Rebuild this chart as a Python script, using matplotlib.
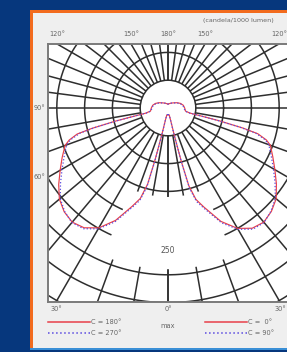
import matplotlib
matplotlib.use("Agg")
import matplotlib.pyplot as plt
import numpy as np
from matplotlib.patches import Rectangle, Wedge, Circle

# luminous intensity distribution (cd/klm) vs gamma angle
gamma = [0, 5, 10, 12, 13, 14, 15, 17, 20, 25, 30, 35, 40, 45, 50, 55, 60, 65, 70, 72, 74, 75, 76, 77,
         80, 90, 100, 110, 120, 135, 150, 165, 180]
c0 = [12, 12, 13, 22, 50, 100, 145, 172, 190, 225, 250, 264, 268, 263, 254, 238, 222, 208, 196, 186, 168, 140, 95, 40,
      32, 30, 28, 24, 19, 13, 10, 8, 7]
c180 = [12, 12, 13, 21, 48, 96, 142, 170, 188, 223, 249, 263, 268, 264, 255, 240, 224, 210, 197, 187, 170, 142, 97, 41,
        32, 30, 28, 24, 19, 13, 10, 8, 7]
c90 = [12, 12, 14, 24, 54, 104, 150, 176, 193, 228, 252, 266, 269, 262, 252, 235, 219, 205, 193, 183, 164, 136, 90, 38,
       31, 29, 27, 23, 18, 13, 10, 8, 7]
c270 = [12, 12, 14, 23, 52, 102, 148, 174, 191, 226, 251, 265, 269, 263, 253, 236, 220, 206, 194, 184, 165, 138, 92, 39,
        31, 29, 27, 23, 18, 13, 10, 8, 7]
scale_label = "250"

k = 0.556  # px per cd/klm
W, H = 287, 352
cx, cy = 168, 108
box = (48, 288, 44, 302)

fig = plt.figure(figsize=(W / 100, H / 100), dpi=100, facecolor="#06377d")
bg = fig.add_axes([0, 0, 1, 1])
bg.set_xlim(0, W)
bg.set_ylim(H, 0)
bg.axis("off")
bg.add_patch(Rectangle((30, 10), 270, 339, facecolor="#efefef", edgecolor="none"))
bg.add_patch(Rectangle((30, 10), 3, 339, facecolor="#f26b1d", edgecolor="none"))
bg.add_patch(Rectangle((30, 10), 270, 3, facecolor="#f26b1d", edgecolor="none"))
bg.add_patch(Rectangle((30, 347.5), 270, 2, facecolor="#3a8fd6", edgecolor="none"))

ax = fig.add_axes([box[0] / W, 1 - box[3] / H, (box[1] - box[0]) / W, (box[3] - box[2]) / H])
x0, x1 = -(cx - box[0]) / k, (box[1] - cx) / k
y0, y1 = -(box[3] - cy) / k, (cy - box[2]) / k
ax.set_xlim(x0, x1)
ax.set_ylim(y0, y1)
ax.set_facecolor("white")
ax.set_xticks([])
ax.set_yticks([])
for s in ax.spines.values():
    s.set_color("#7a7a7a")
    s.set_linewidth(1.4)

gc = "#2e2e2e"
glw = 1.1
t = np.linspace(0, 2 * np.pi, 400)
for r in range(100, 700, 50):
    ax.plot(r * np.cos(t), r * np.sin(t), color=gc, lw=glw, zorder=1)

def ray(g, side):
    g = np.radians(g)
    r = np.array([50, 800])
    return side * r * np.sin(g), -r * np.cos(g)

for side in (1, -1):
    for g in np.arange(0, 90, 10):
        ax.plot(*ray(g, side), color=gc, lw=glw, zorder=1)
    for g in np.arange(90, 180.1, 7.5):
        ax.plot(*ray(g, side), color=gc, lw=glw, zorder=1)

ax.add_patch(Circle((0, 0), 50, facecolor="white", edgecolor=gc, lw=glw, zorder=2))
ax.add_patch(Wedge((0, 0), 290, 246, 294, width=130, facecolor="white", edgecolor="none", zorder=2))
ax.text(0, -257, scale_label, ha="center", va="center", fontsize=5.5, color="#555555", zorder=3)

g = np.radians(gamma)
red, blue = "#e8404a", "#5a4ae0"
ax.plot(np.sin(g) * c0, -np.cos(g) * np.array(c0), color=red, lw=0.85, zorder=4)
ax.plot(-np.sin(g) * c180, -np.cos(g) * np.array(c180), color=red, lw=0.85, zorder=4)
ax.plot(np.sin(g) * c90, -np.cos(g) * np.array(c90), color=blue, lw=0.9, ls=":", zorder=5)
ax.plot(-np.sin(g) * c270, -np.cos(g) * np.array(c270), color=blue, lw=0.9, ls=":", zorder=5)

tc = "#666666"
fs = 4.8
for a in (120, 150, 180, 210, 240):
    xa = y1 * np.tan(np.radians(180 - a))
    ax.text(xa, y1 + 12, "%d°" % (a if a <= 180 else 360 - a), ha="center", va="bottom",
            fontsize=fs, color=tc, clip_on=False)
for a in (90, 60):
    ya = x0 / np.tan(np.radians(a))
    ax.text(x0 - 4, ya, "%d°" % a, ha="right", va="center", fontsize=fs, color=tc, clip_on=False)
for a in (-30, 0, 30):
    xa = -y0 * np.tan(np.radians(a))
    ax.text(xa, y0 - 8, "%d°" % abs(a), ha="center", va="top", fontsize=fs, color=tc, clip_on=False)

bg.text(203, 22, "(candela/1000 lumen)", fontsize=4.6, color=tc, va="baseline")
bg.text(168, 326, "max", ha="center", va="center", fontsize=fs, color=tc)
for lx, labs in ((48, ("C = 180°", "C = 270°")), (205, ("C =  0°", "C = 90°"))):
    bg.plot([lx, lx + 42], [322, 322], color=red, lw=1.1)
    bg.plot([lx, lx + 42], [333, 333], color=blue, lw=1.1, ls=":")
    bg.text(lx + 43, 322, labs[0], va="center", fontsize=fs, color=tc)
    bg.text(lx + 43, 333, labs[1], va="center", fontsize=fs, color=tc)

fig.savefig("out.png", dpi=100, facecolor=fig.get_facecolor())
